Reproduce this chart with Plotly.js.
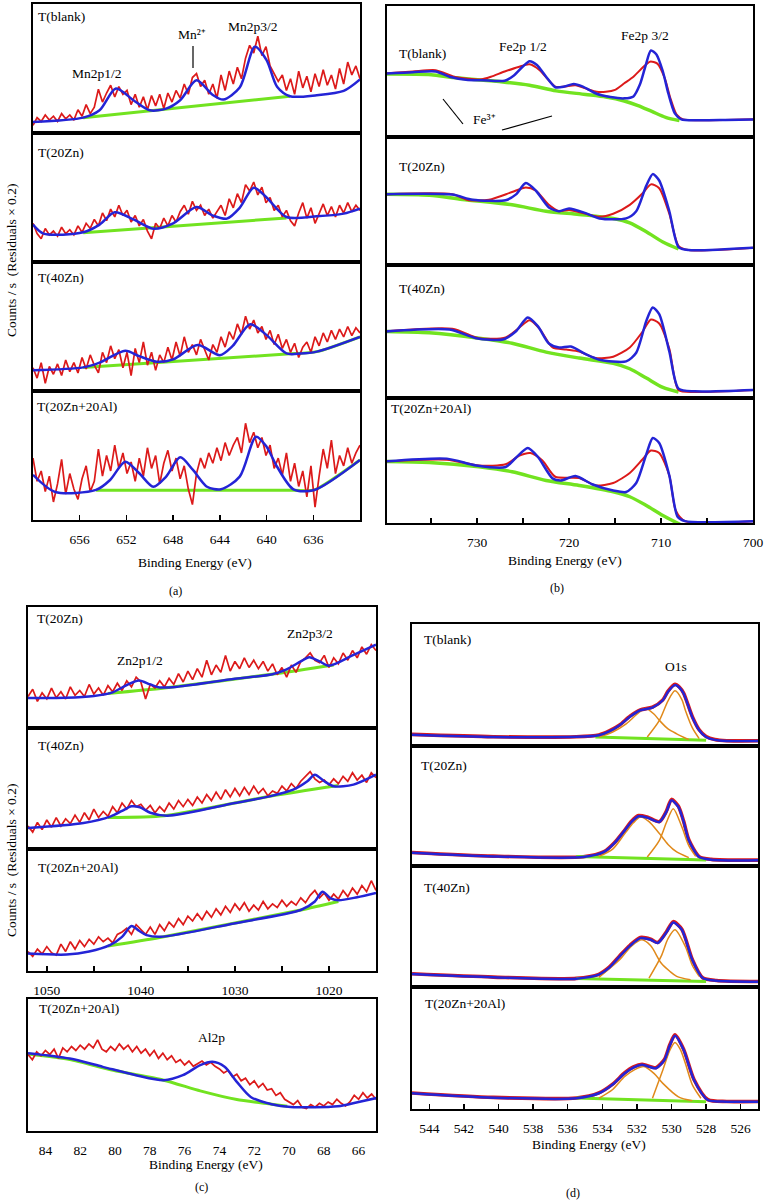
<!DOCTYPE html>
<html><head><meta charset="utf-8">
<script src="https://cdn.plot.ly/plotly-3.0.1.min.js"></script>
<style>html,body{margin:0;padding:0;background:#fff}#chart{width:769px;height:1202px}</style>
</head><body><div id="chart"></div>
<script>
// ---------------- DATA (arbitrary intensity units, % of panel height) ----------------
// (a) Mn 2p
const mnE = [660,659.65,659.3,658.95,658.6,658.25,657.9,657.55,657.2,656.85,656.5,656.15,655.8,655.45,655.1,654.75,654.4,654.05,653.7,653.35,653,652.65,652.3,651.95,651.6,651.25,650.9,650.55,650.2,649.85,649.5,649.15,648.8,648.45,648.1,647.75,647.4,647.05,646.7,646.35,646,645.65,645.3,644.95,644.6,644.25,643.9,643.55,643.2,642.85,642.5,642.15,641.8,641.45,641.1,640.75,640.4,640.05,639.7,639.35,639,638.65,638.3,637.95,637.6,637.25,636.9,636.55,636.2,635.85,635.5,635.15,634.8,634.45,634.1,633.75,633.4,633.05,632.7,632.35,632];
const mnBlankRed = [6,12,9,14,10,13,9,15,11,14,10,18,13,22,15,20,34,24,31,37,28,36,30,33,22,30,20,28,18,29,21,30,19,31,24,33,27,38,30,43,46,36,41,30,38,27,45,33,48,38,51,42,58,68,62,75,60,67,52,46,40,45,33,42,30,48,35,44,32,46,36,49,37,45,34,50,38,55,45,52,42];
const mnZn20Red = [30,22,18,26,21,24,20,27,22,25,21,28,23,30,26,33,28,38,32,41,35,44,36,40,31,36,28,33,24,18,30,26,34,28,36,31,39,44,37,47,40,44,36,41,34,39,44,36,49,42,53,46,60,55,62,52,58,46,50,40,44,35,40,32,28,38,46,34,42,30,37,45,36,43,35,44,38,46,39,44,40];
const mnZn40Red = [18,10,22,6,19,13,21,12,24,15,22,14,26,17,28,20,14,30,22,35,25,32,18,30,12,33,22,38,20,30,16,28,22,34,24,38,27,42,30,36,28,40,32,24,36,30,42,34,46,40,52,44,58,48,55,45,50,40,47,36,44,33,40,30,37,26,34,38,30,42,35,45,38,47,40,48,42,50,43,49,45];
const mnZnAlRed = [48,30,38,22,34,14,28,47,20,36,24,16,32,42,22,30,55,34,50,38,58,40,52,36,45,30,48,34,56,40,50,28,44,54,38,48,32,42,24,12,36,48,40,52,44,56,46,60,50,58,64,52,75,60,68,56,64,50,58,40,48,35,52,30,44,26,38,18,42,10,34,55,40,62,36,50,42,56,44,52,58];
const mnBlankFitE = [660,655.7,654.3,652.9,651.4,650,648.6,647.4,646,644.6,643.7,642.3,641,640,639.1,638,635.7,633.4,632];
const mnBlankFitY = [8.5,11.9,17.6,34.5,25.4,17.6,18.9,25.4,40.9,29.5,25.9,35.2,66.8,56.5,35.8,28.5,29.3,32.6,41.5];
const mnBlankBgE = [655.7,638]; const mnBlankBgY = [11.9,28.5];
const mnZn20FitE = [660,659.1,655.7,654.3,653,651.4,649.7,648,646,644.6,643.4,642.3,641.1,640,638.3,635.7,633.4,632];
const mnZn20FitY = [29,22,23,29,38.5,33,25.8,30,42.6,36,33.6,42,57.6,50,34.9,35.4,37.5,41.3];
const mnZn20BgE = [655.7,638.3]; const mnZn20BgY = [22.7,34.1];
const mnZn40FitE = [660,655.7,654.3,652.1,650.9,649.4,648,645.9,644,642.9,641.4,640,638.3,637.1,635.7,632];
const mnZn40FitY = [16,18.3,22,31.2,27,22.7,24.5,35.6,27.8,35,51.8,43.3,29.1,29,30.5,42];
const mnZn40BgE = [655.7,638.3,635.7,632]; const mnZn40BgY = [18.3,28.6,30.5,42];
const mnZnAlFitE = [660,658.1,654.6,653.4,652.1,650.9,649.7,648.6,647.4,646.3,645.1,643.9,642.3,640.9,640,639.1,637.7,635.9,632];
const mnZnAlFitY = [35,21.7,23.3,31,45.2,36.2,25.8,33.6,48.6,38.8,25.8,23.8,33.6,64.6,56.8,41.3,23.8,23.3,46.5];
const mnZnAlBgE = [654.6,637.7,635.9,632]; const mnZnAlBgY = [23,23,23.3,46.5];

// (b) Fe 2p
const feBlankRedE = [740,737,734.5,732.5,731,729.5,728.5,727,725.5,724.3,723.2,722.3,721.5,720.5,719.3,718,717,716,715,714,713,712,711.2,710.4,709.6,709,708.3,707.6,706,703,700];
const feBlankRedY = [48.5,50,51,46,44.5,44,46,50,53.5,55.5,51,44,38.5,38.5,39.5,36.5,34.5,34.5,36,41,46,53,57.5,56,45,30,17,13.5,12.8,13,13.5];
const feBlankFitE = [740,737,734.5,733,731,729.5,727,726,725,724.3,723.5,722.5,721.5,720.5,719.5,718.5,717,715.5,714,713,712.3,711.7,711.1,710.5,709.8,709.2,708.5,707.8,706,703,700];
const feBlankFitY = [48.5,49.5,50,46,43.5,43.4,43,47,54,57.9,55,46,38,38.5,40.5,38.5,33,30.5,29.5,31,40,54,66,63,50,33,18,13.5,12.8,13,13.3];
const feBlankBgE = [740,735,732.7,727.2,724.3,721.4,718.2,716,714,712.5,711,709.5,708];
const feBlankBgY = [48,47.5,45.4,42,39.5,35.2,32.5,30.5,27.5,24,19.5,15,12.5];
const feZn20RedE = [740,732.7,730.9,728.7,726.2,724.7,723.6,722.2,721.1,720,718.2,716.7,715.2,713.4,712,711.1,710.2,709.1,708.1,707,700];
const feZn20RedY = [55.3,55.3,50.6,51,57,60.5,58,47,42,43,40,37.7,40,47,56,63,60,40,15,11.7,13.5];
const feZn20FitE = [740,732.7,730.5,726.9,725.8,724.7,723.6,722.2,721.1,720,718.2,716.7,713.8,712.7,711.6,710.9,710.2,709.1,708.1,707,700];
const feZn20FitY = [55.3,55,51,50.6,55,64,58,45,42,44.2,40.5,36.4,36.4,42,62,71,66,42,14,11.7,13.5];
const feZn20BgE = [740,735.2,731.6,726.2,722.5,718.9,715.2,713.4,711.6,709.8,708.1];
const feZn20BgY = [55.3,54.5,51.2,47,42,39.5,36.4,33,26,18,12.5];
const feZn40RedE = [740,732.7,729.8,726.9,725.4,724.3,723.2,721.8,720.3,718.9,717.1,715.2,713.4,712,711.1,710.2,709.1,708.1,706.3,700];
const feZn40RedY = [50,52,45,45.5,53,58.5,52,38,36.5,35,30,31,38,50,59,56,37,6,4.5,6];
const feZn40FitE = [740,733,730.1,727.2,725.8,724.5,723.4,722.2,721.1,719.8,718.2,716.7,713.8,712.7,711.6,710.9,710.2,709.1,708.1,706.3,700];
const feZn40FitY = [50,51.5,45,44,50,60.5,54,41,38,38.7,33,28.8,27.5,34,58,68,63,35,7,5,6];
const feZn40BgE = [740,735.2,729.8,726.2,722.5,718.9,715.2,713.4,711.6,709.8,708.1];
const feZn40BgY = [50,49,45,41.2,34.5,30,26,22,15,8,4.5];
const feZnAlRedE = [740,733.3,729.8,726.9,725.4,724.2,722.9,721.5,718.9,717.1,715.2,713.4,712,711.1,710.2,709.1,708.4,707.4,700];
const feZnAlRedY = [49.3,50.7,46,47,54,56,50,37,36,30,32,40,51,58,56,38,10,1.5,1.5];
const feZnAlFitE = [740,733.3,730.1,726.9,725.8,724.5,723.4,721.8,720.9,719.3,717.5,715.2,713.8,712.7,711.6,710.9,710.2,709.1,708.2,707.4,700];
const feZnAlFitY = [49.3,51.5,46,44.8,52,60,53,35.7,34,37.6,31,26,24.8,32,55,68,64,38,5,1.5,1.5];
const feZnAlBgE = [740,735.2,729.8,726.2,722.5,718.9,715.2,713.4,711.6,709.8,707.7];
const feZnAlBgY = [49.3,48.5,45,41,34,30,25,21,14,6,-2];

// (c) Zn 2p and Al 2p
const znE = [1052,1051.5,1051,1050.5,1050,1049.5,1049,1048.5,1048,1047.5,1047,1046.5,1046,1045.5,1045,1044.5,1044,1043.5,1043,1042.5,1042,1041.5,1041,1040.5,1040,1039.5,1039,1038.5,1038,1037.5,1037,1036.5,1036,1035.5,1035,1034.5,1034,1033.5,1033,1032.5,1032,1031.5,1031,1030.5,1030,1029.5,1029,1028.5,1028,1027.5,1027,1026.5,1026,1025.5,1025,1024.5,1024,1023.5,1023,1022.5,1022,1021.5,1021,1020.5,1020,1019.5,1019,1018.5,1018,1017.5,1017,1016.5,1016,1015.5,1015];
const znZn20Red = [26,32,22,29,24,33,25,30,24,34,27,31,26,36,28,33,27,35,30,37,31,39,34,42,38,24,36,33,39,34,41,36,45,38,47,40,49,42,56,44,52,46,60,47,55,49,58,50,56,49,55,47,53,44,50,42,52,46,55,58,62,56,54,60,50,58,53,62,56,64,58,67,61,69,64];
const znZn40Red = [19,14,22,16,24,18,26,19,25,21,28,22,30,24,33,26,31,27,35,30,38,33,40,35,37,32,36,30,35,31,38,33,40,35,41,36,43,38,45,40,47,41,49,43,50,44,51,45,52,46,50,44,48,46,52,48,54,50,56,60,64,58,55,57,53,58,54,60,56,63,57,61,55,63,59];
const znZnAlRed = [16,12,18,14,20,15,13,22,16,24,18,25,20,26,22,28,24,27,23,30,32,35,30,38,34,30,36,30,38,33,40,36,43,38,45,41,47,42,49,44,51,46,53,48,55,50,56,49,54,50,57,51,55,52,58,53,57,54,60,56,62,66,60,64,58,63,59,66,61,68,63,70,65,74,66];
const znZn20FitE = [1052,1048,1045,1043,1041.5,1040.2,1039,1038,1036,1030,1026,1024.5,1023,1022.1,1021,1020,1017.5,1015];
const znZn20FitY = [24.8,25,26.5,29.5,35.5,39.3,36,33.5,34.2,40.7,44.5,48.5,55,58.5,55,51.5,60,68.9];
const znZn20BgE = [1043.5,1037.5,1025.5,1019.5]; const znZn20BgY = [28.5,33,45,52];
const znZn40FitE = [1052,1046.1,1043.2,1042,1041,1040.1,1039,1037.2,1030,1026.3,1023.8,1022.3,1021.5,1020.5,1019.5,1017.4,1015];
const znZn40FitY = [17.4,21.5,27,31.5,35.3,34.5,30,27.5,38,43.5,49,56,61.4,56,51.8,53.2,61.4];
const znZn40BgE = [1043.5,1037.5,1026,1019]; const znZn40BgY = [26,27.5,44,52.5];
const znZnAlFitE = [1052,1047.9,1045.5,1043.3,1042,1041,1040.2,1039.4,1037.9,1030.1,1023,1021.5,1020.7,1019.8,1019,1017,1015];
const znZnAlFitY = [14.3,13.5,16,21.2,28,36.8,33,29.4,28,39,50,57,65,59.6,58,60.5,64];
const znZnAlBgE = [1043.5,1038,1023,1019]; const znZnAlBgY = [20.5,27.5,50,57];
const alE = [85,84.75,84.5,84.25,84,83.75,83.5,83.25,83,82.75,82.5,82.25,82,81.75,81.5,81.25,81,80.75,80.5,80.25,80,79.75,79.5,79.25,79,78.75,78.5,78.25,78,77.75,77.5,77.25,77,76.75,76.5,76.25,76,75.75,75.5,75.25,75,74.75,74.5,74.25,74,73.75,73.5,73.25,73,72.75,72.5,72.25,72,71.75,71.5,71.25,71,70.75,70.5,70.25,70,69.75,69.5,69.25,69,68.75,68.5,68.25,68,67.75,67.5,67.25,67,66.75,66.5,66.25,66,65.75,65.5,65.25,65];
const alRed = [58,54,60,57,61,58,62,55,63,60,64,61,65,62,66,63,69,62,60,64,61,66,62,65,60,64,59,62,57,61,55,59,54,57,52,54,50,53,49,51,53,50,52,49,47,44,46,41,43,38,40,35,38,33,36,31,32,27,29,24,22,20,23,18,17,20,18,21,19,22,20,24,21,19,22,27,24,29,25,28,24];
const alFitE = [85,82.6,80.7,78.8,77.2,76.1,75.1,74.4,73.7,73,72.2,71,69.9,67.2,66,64.7];
const alFitY = [59,54.9,48.6,42.3,38.5,42.3,49.9,52.4,48.6,37.2,25.8,20.3,18.2,18.7,22,25.8];
const alBgE = [85,82.6,80.1,77.2,75.1,73,71,70.1]; const alBgY = [58.4,54.2,46,38.5,30.4,23.8,20.3,18.7];

// (d) O 1s
const oBlankE = [545,540.3,535.5,534.2,533.6,533,532.4,531.8,531.1,530.5,530.2,529.8,529.55,529.3,528.8,528.4,528,527.5,526.8,525];
const oBlankFit = [9.3,7.4,7.5,8.8,12,17,24,29.3,31.5,37.5,44.5,49.9,48,43,23.8,13,7.4,5,4.1,4.1];
const oBlankRed = [9.5,7.6,7.6,9,12.3,17.2,24.5,29.6,31.8,37.8,45,50.6,48.4,43.4,24.2,13.3,7.8,5.3,4.3,4.3];
const oBlankC1E = [531.4,530.7,530.2,529.8,529.4,529.2,528.8,528.4]; const oBlankC1Y = [7.4,21,37,45.2,38,29.3,15,6];
const oBlankC2E = [534.2,533.4,532.6,532,531.5,531,530.7,530.2,529.7,529]; const oBlankC2Y = [7.4,11.5,18.4,26,30.7,26,21,14,10,5.2];
const oBlankBgE = [534.4,528]; const oBlankBgY = [7.4,4.7];
const oZn20E = [545,540.3,535.1,533.9,533.3,532.7,532.3,531.9,531.4,530.7,530.3,530,529.6,529.3,529,528.4,527.7,525];
const oZn20Fit = [11.1,8,7.5,11.7,19,29.7,37,41.4,40.3,36.7,45,54.7,49.2,37,21.4,7.5,5.3,4.7];
const oZn20Red = [11.3,8.2,7.7,12,19.4,30,37.5,42,40.8,37,45.5,55.5,49.8,37.4,21.8,7.8,5.5,4.9];
const oZn20C1E = [531.4,530.7,530.3,529.9,529.4,529,528.6]; const oZn20C1Y = [7.5,21.4,36,47.8,32.5,17,8];
const oZn20C2E = [534.2,533.4,532.7,532.2,531.8,531.3,530.7,530.2,529.7,529]; const oZn20C2Y = [8,14,27,36,40.8,37,27,18,11.7,7];
const oZn20BgE = [535.5,528]; const oZn20BgY = [8,5];
const oZn40E = [545,540.3,535.5,534.2,533.6,533,532.4,531.8,531.2,530.8,530.3,529.9,529.4,528.8,528.2,527.4,525];
const oZn40Fit = [10.7,8,6.9,10.2,16,25.3,34,40.4,39,36.3,45,53.3,47.3,22.5,7.4,5.2,4.4];
const oZn40Red = [10.9,8.2,7.1,10.5,16.4,25.7,34.5,40.9,39.5,36.8,45.5,54,47.8,22.9,7.7,5.4,4.6];
const oZn40C1E = [531.3,530.6,530.2,529.8,529.2,528.8,528.4]; const oZn40C1Y = [7.4,25.3,40,47.3,33.5,18,8.8];
const oZn40C2E = [534.2,533,532.3,531.7,531.2,530.6,530.1,529.7,528.9]; const oZn40C2Y = [8,22.5,34,39,34,19.8,13,8.8,6];
const oZn40BgE = [535.5,528]; const oZn40BgY = [7,4.5];
const oZnAlE = [545,540.3,535.5,534.2,533.4,532.7,532.2,531.7,530.9,530.4,530.1,529.8,529.3,528.7,527.9,526.8,525];
const oZnAlFit = [12.9,9.3,8.8,12.9,20,29.3,34,36.2,33.4,40.3,52,60,48.5,23.8,7.4,6,6];
const oZnAlRed = [13.1,9.5,9,13.2,20.4,29.7,34.5,36.7,33.9,40.8,52.6,60.8,49,24.2,7.7,6.2,6.2];
const oZnAlC1E = [531.1,530.5,530.1,529.8,529.5,529.2,528.8,528.3]; const oZnAlC1Y = [8.8,32,48,54.5,49,37.5,20,8.8];
const oZnAlC2E = [534.2,533.4,532.7,532.1,531.6,531,530.5,529.6,528.8]; const oZnAlC2Y = [8.8,16,26.6,32.5,34.8,29,21,10,6.8];
const oZnAlBgE = [535.5,528]; const oZnAlBgY = [9,6];

// tick definitions
const mnTicks = [656,652,648,644,640,636];
const feTicks = [730,720,710,700];
const feMinorTicks = [735,725,715,705];
const znTicks = [1050,1040,1030,1020];
const znMinorTicks = [1045,1035,1025];
const alTicks = [84,82,80,78,76,74,72,70,68,66];
const oTicks = [544,542,540,538,536,534,532,530,528,526];

// ---------------- LAYOUT / DRAWING ----------------
const W=769,H=1202;
const RED='#dc1a1a', BLUE='#2424d6', GREEN='#72e320', ORANGE='#e0891a';
const FONT='Liberation Serif, Times New Roman, serif';
function px(x){return x/W;} function py(y){return 1-y/H;}
const layout={width:W,height:H,margin:{l:0,r:0,t:0,b:0},paper_bgcolor:'#fff',plot_bgcolor:'rgba(0,0,0,0)',
  showlegend:false,font:{family:FONT,size:13,color:'#000'},annotations:[],shapes:[]};
const traces=[];
let n=0;
function addPanel(o){
  n++;
  const xa='xaxis'+(n===1?'':n), ya='yaxis'+(n===1?'':n);
  const xr='x'+(n===1?'':n), yr='y'+(n===1?'':n);
  const ax={domain:[px(o.x0),px(o.x1)],range:o.range,anchor:yr,showline:true,mirror:true,linecolor:'#000',linewidth:2,
    showgrid:false,zeroline:false,ticks:'',tickvals:[],showticklabels:false,fixedrange:true};
  if(o.bottom){
    Object.assign(ax,{tickvals:o.tickvals,ticks:o.noticks?'':'inside',showticklabels:true,ticklen:5,tickwidth:1.5,
      tickcolor:'#000',tickfont:{size:13.5,family:FONT},ticklabelstandoff:6});
    if(o.minor) ax.minor={tickvals:o.minor,ticks:'inside',ticklen:5,tickwidth:1.5,tickcolor:'#000',showgrid:false};
  }
  layout[xa]=ax;
  layout[ya]={domain:[py(o.y1),py(o.y0)],range:[0,100],anchor:xr,showline:true,mirror:true,linecolor:'#000',linewidth:2,
    showgrid:false,zeroline:false,showticklabels:false,ticks:'',fixedrange:true};
  o.series.forEach(s=>traces.push({x:s[0],y:s[1],xaxis:xr,yaxis:yr,type:'scatter',mode:'lines',
    line:{color:s[2],width:s[3],shape:s[4]||'linear',smoothing:s[5]||1},hoverinfo:'skip'}));
}
function noisy(E,red,fE,fY,bE,bY){
  return [[bE,bY,GREEN,3,'spline',0.6],[E,red,RED,1.7],[fE,fY,BLUE,2.5,'spline',0.8]];
}
function smooth(rE,rY,fE,fY,bE,bY){
  return [[bE,bY,GREEN,3.5,'spline',0.8],[rE,rY,RED,2,'spline',0.7],[fE,fY,BLUE,2.5,'spline',0.7]];
}
function ospec(E,red,fit,c1E,c1Y,c2E,c2Y,bE,bY){
  return [[E,red,RED,3.6,'spline',0.7],[bE,bY,GREEN,3,'linear'],[c1E,c1Y,ORANGE,1.5,'spline',0.8],[c2E,c2Y,ORANGE,1.5,'spline',0.8],[E,fit,BLUE,2.5,'spline',0.7]];
}
// (a)
const aRows=[[4,133],[133,262],[262,391],[391,520]];
const aSeries=[noisy(mnE,mnBlankRed,mnBlankFitE,mnBlankFitY,mnBlankBgE,mnBlankBgY),
  noisy(mnE,mnZn20Red,mnZn20FitE,mnZn20FitY,mnZn20BgE,mnZn20BgY),
  noisy(mnE,mnZn40Red,mnZn40FitE,mnZn40FitY,mnZn40BgE,mnZn40BgY),
  noisy(mnE,mnZnAlRed,mnZnAlFitE,mnZnAlFitY,mnZnAlBgE,mnZnAlBgY)];
aRows.forEach((r,i)=>addPanel({x0:33,x1:360,y0:r[0],y1:r[1],range:[660,632],bottom:i===3,tickvals:mnTicks,series:aSeries[i]}));
// (b)
const bRows=[[6,137],[137,265],[265,398],[398,523]];
const bSeries=[smooth(feBlankRedE,feBlankRedY,feBlankFitE,feBlankFitY,feBlankBgE,feBlankBgY),
  smooth(feZn20RedE,feZn20RedY,feZn20FitE,feZn20FitY,feZn20BgE,feZn20BgY),
  smooth(feZn40RedE,feZn40RedY,feZn40FitE,feZn40FitY,feZn40BgE,feZn40BgY),
  smooth(feZnAlRedE,feZnAlRedY,feZnAlFitE,feZnAlFitY,feZnAlBgE,feZnAlBgY)];
bRows.forEach((r,i)=>addPanel({x0:387,x1:753,y0:r[0],y1:r[1],range:[739.8,700],bottom:i===3,tickvals:feTicks,minor:feMinorTicks,series:bSeries[i]}));
// (c)
const cRows=[[607,728],[728,849],[849,971]];
const cSeries=[noisy(znE,znZn20Red,znZn20FitE,znZn20FitY,znZn20BgE,znZn20BgY),
  noisy(znE,znZn40Red,znZn40FitE,znZn40FitY,znZn40BgE,znZn40BgY),
  noisy(znE,znZnAlRed,znZnAlFitE,znZnAlFitY,znZnAlBgE,znZnAlBgY)];
cRows.forEach((r,i)=>addPanel({x0:28,x1:376,y0:r[0],y1:r[1],range:[1052,1015],bottom:i===2,tickvals:znTicks,minor:znMinorTicks,series:cSeries[i]}));
addPanel({x0:28,x1:376,y0:999,y1:1131,range:[85,65],bottom:true,tickvals:alTicks,noticks:true,
  series:[[alBgE,alBgY,GREEN,3,'spline',0.6],[alE,alRed,RED,1.7],[alFitE,alFitY,BLUE,2.5,'spline',0.8]]});
// (d)
const dRows=[[624,746],[746,866],[866,987],[987,1109]];
const dSeries=[ospec(oBlankE,oBlankRed,oBlankFit,oBlankC1E,oBlankC1Y,oBlankC2E,oBlankC2Y,oBlankBgE,oBlankBgY),
  ospec(oZn20E,oZn20Red,oZn20Fit,oZn20C1E,oZn20C1Y,oZn20C2E,oZn20C2Y,oZn20BgE,oZn20BgY),
  ospec(oZn40E,oZn40Red,oZn40Fit,oZn40C1E,oZn40C1Y,oZn40C2E,oZn40C2Y,oZn40BgE,oZn40BgY),
  ospec(oZnAlE,oZnAlRed,oZnAlFit,oZnAlC1E,oZnAlC1Y,oZnAlC2E,oZnAlC2Y,oZnAlBgE,oZnAlBgY)];
dRows.forEach((r,i)=>addPanel({x0:412,x1:758,y0:r[0],y1:r[1],range:[545,525],bottom:i===3,tickvals:oTicks,series:dSeries[i]}));

// text
function txt(t,x,y,opt){opt=opt||{};layout.annotations.push({text:t,xref:'paper',yref:'paper',x:px(x),y:py(y),
  xanchor:opt.xa||'center',yanchor:'middle',showarrow:false,textangle:opt.rot||0,font:{family:FONT,size:opt.size||13.5,color:'#000'}});}
// sample labels
[['T(blank)',36,17],['T(20Zn)',36,152],['T(40Zn)',36,277],['T(20Zn+20Al)',35,407],
 ['T(blank)',397,54],['T(20Zn)',397,166],['T(40Zn)',397,288],['T(20Zn+20Al)',389,409],
 ['T(20Zn)',35,618],['T(40Zn)',36,745],['T(20Zn+20Al)',36,867],['T(20Zn+20Al)',37,1008],
 ['T(blank)',422,639],['T(20Zn)',419,765],['T(40Zn)',422,887],['T(20Zn+20Al)',423,1003]
].forEach(a=>txt(a[0],a[1],a[2],{xa:'left'}));
// peak labels
txt('Mn2p1/2',97,74); txt('Mn²⁺',192,35); txt('Mn2p3/2',253,27);
txt('Fe2p 1/2',523,47); txt('Fe2p 3/2',645,36); txt('Fe³⁺',484,119);
txt('Zn2p1/2',140,660); txt('Zn2p3/2',310,633); txt('Al2p',212,1037); txt('O1s',676,667);
// axis titles
txt('Binding Energy (eV)',195,562); txt('Binding Energy (eV)',565,560);
txt('Binding Energy (eV)',206,1164); txt('Binding Energy (eV)',589,1144);
txt('Counts / s  (Residuals × 0.2)',11,260,{rot:-90}); txt('Counts / s  (Residuals × 0.2)',11,860,{rot:-90});
txt('(a)',175,591,{size:12}); txt('(b)',557,588,{size:12}); txt('(c)',202,1187,{size:12}); txt('(d)',573,1193,{size:12});
// pointer lines
function ln(x0,y0,x1,y1){layout.shapes.push({type:'line',xref:'paper',yref:'paper',x0:px(x0),y0:py(y0),x1:px(x1),y1:py(y1),line:{color:'#000',width:1.2}});}
ln(193,46,193,68); ln(443,99,463,124); ln(502,130,552,116);

Plotly.newPlot('chart',traces,layout,{staticPlot:true,displayModeBar:false});
</script></body></html>
